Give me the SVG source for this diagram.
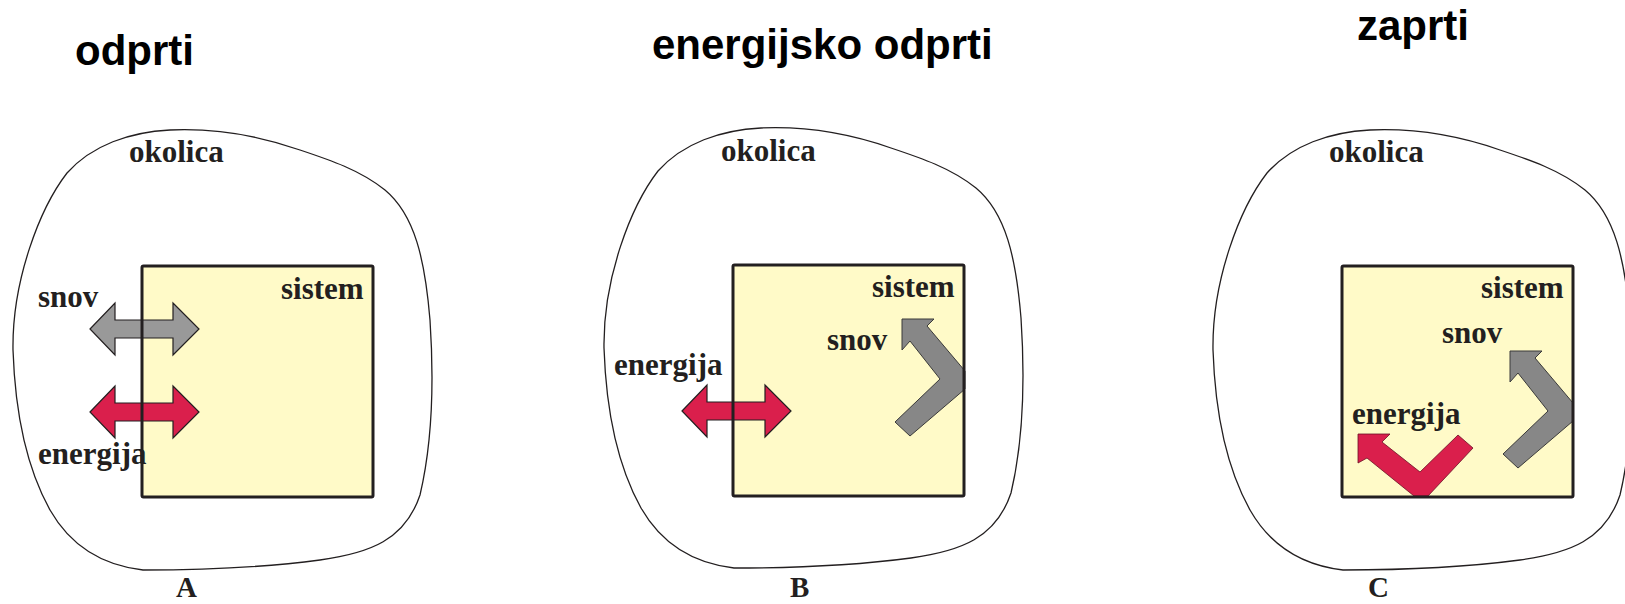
<svg xmlns="http://www.w3.org/2000/svg" width="1625" height="604" viewBox="0 0 1625 604">
<style>
.title{font-family:"Liberation Sans",Arial,sans-serif;font-weight:bold;font-size:42px;fill:#000}
.lbl{font-family:"Liberation Serif","Times New Roman",serif;font-weight:bold;font-size:31px;fill:#231f20}
.cap{font-family:"Liberation Serif","Times New Roman",serif;font-weight:bold;font-size:29px;fill:#231f20}
.env{fill:none;stroke:#231f20;stroke-width:1.3}
.sysfill{fill:#fffac8;stroke:none}
.sysline{fill:none;stroke:#231f20;stroke-width:3;stroke-linejoin:round}
.red{fill:#da1f4c;stroke:#231f20;stroke-width:1.2}
.gray{fill:#999999;stroke:#231f20;stroke-width:1.2}
.gray2{fill:#878787;stroke:#3a3a3a;stroke-width:1}
.red2{fill:#da1f4c;stroke:#6a1025;stroke-width:0.8}
</style>
<defs>
<path id="blob" d="M143,570 C100,565 70,545 50,510 C25,465 15,410 13,350 C12,280 40,208 67,173 C92,145 130,132 170,130 C215,128 260,136 300,150 C330,160 360,170 385,190 C415,215 425,260 430,320 C434,380 433,440 420,495 C405,540 370,553 320,560 C260,568 200,570 143,570 Z"/>
<path id="dbl" d="M0,0 L25,-26 L25,-9 L83,-9 L83,-26 L109,0 L83,26 L83,9 L25,9 L25,26 Z"/>
<path id="bentGray" d="M0,0 L32,0 L25,7 L63,52 L63,70 L8,117 L-7,103 L38,60 L8,22 L0,31 Z"/>
<path id="bentRed" d="M0,0 L32,0 L24,8 L62,38 L100,1 L115,14 L70,62 L56,62 L9,24 L0,29 Z"/>
</defs>

<g id="title-A"><text class="title" x="75" y="65">odprti</text></g>
<g id="title-B"><text class="title" x="652" y="59">energijsko odprti</text></g>
<g id="title-C"><text class="title" x="1357" y="40">zaprti</text></g>

<g id="okolica-A"><use href="#blob" class="env"/><text class="lbl" x="129" y="162">okolica</text></g>
<g id="okolica-B"><use href="#blob" class="env" transform="translate(591,-2)"/><text class="lbl" x="721" y="161">okolica</text></g>
<g id="okolica-C"><use href="#blob" class="env" transform="translate(1200,0)"/><text class="lbl" x="1329" y="162">okolica</text></g>

<g id="sistem-A"><rect class="sysfill" x="142" y="266" width="231" height="231"/></g>
<g id="sistem-B"><rect class="sysfill" x="733" y="265" width="231" height="231"/></g>
<g id="sistem-C"><rect class="sysfill" x="1342" y="266" width="231" height="231"/></g>

<g id="connectors">
<use href="#dbl" class="gray" transform="translate(90,329)"/>
<use href="#dbl" class="red" transform="translate(90,412)"/>
<use href="#dbl" class="red" transform="translate(682,411)"/>
<use href="#bentGray" class="gray2" transform="translate(902,319)"/>
<use href="#bentGray" class="gray2" transform="translate(1510,351)"/>
<use href="#bentRed" class="red2" transform="translate(1358,434)"/>
</g>

<g id="sistem-borders">
<rect class="sysline" x="142" y="266" width="231" height="231" rx="1.5"/>
<rect class="sysline" x="733" y="265" width="231" height="231" rx="1.5"/>
<rect class="sysline" x="1342" y="266" width="231" height="231" rx="1.5"/>
</g>

<g id="labels-A">
<text class="lbl" x="281" y="299">sistem</text>
<text class="lbl" x="38" y="307">snov</text>
<text class="lbl" x="38" y="464">energija</text>
<text class="cap" x="176" y="597">A</text>
</g>
<g id="labels-B">
<text class="lbl" x="872" y="297">sistem</text>
<text class="lbl" x="827" y="350">snov</text>
<text class="lbl" x="614" y="375">energija</text>
<text class="cap" x="790" y="597">B</text>
</g>
<g id="labels-C">
<text class="lbl" x="1481" y="298">sistem</text>
<text class="lbl" x="1442" y="343">snov</text>
<text class="lbl" x="1352" y="424">energija</text>
<text class="cap" x="1368" y="597">C</text>
</g>
</svg>
